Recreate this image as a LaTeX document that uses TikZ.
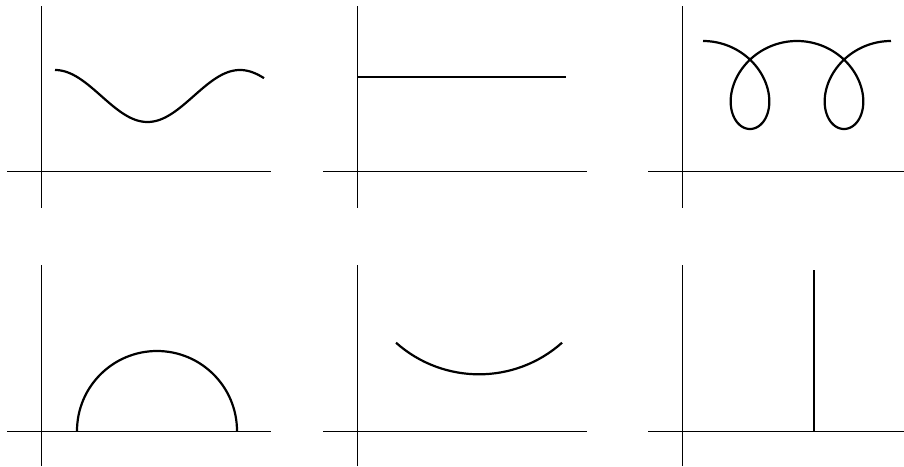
\documentclass[tikz,border=0pt]{standalone}
\usepackage{tikz}
\begin{document}
\begin{tikzpicture}[x=0.5pt, y=0.5pt]
  \tikzset{
      axis/.style={line width=0.5pt},
      curve/.style={line width=1.1pt, line join=round}
  }
  \useasboundingbox (0,0) rectangle (904,466);

  \begin{scope}[shift={(41,294)}]
      \coordinate (o1) at (0,0);
      \draw[axis] (-34,0) -- (230,0);
      \draw[axis] (0,-36) -- (0,166);
      \draw[curve] plot[domain=14:223, samples=120] (\x, {76 + 26*cos(1.9459*(\x-14))});
  \end{scope}

  \begin{scope}[shift={(357,294)}]
      \coordinate (o2) at (0,0);
      \draw[axis] (-34,0) -- (230,0);
      \draw[axis] (0,-36) -- (0,166);
      \draw[curve] (0,95.3) -- (209,95.3);
  \end{scope}

  \begin{scope}[shift={(682,294)}]
      \coordinate (o3) at (0,0);
      \draw[axis] (-34,0) -- (222,0);
      \draw[axis] (0,-36) -- (0,166);
      \draw[curve] plot[domain=0:720, samples=240, smooth] ({21 + 0.2611*\x + 40*sin(\x)}, {87 + 44*cos(\x)});
  \end{scope}

  \begin{scope}[shift={(41,35)}]
      \coordinate (o4) at (0,0);
      \draw[axis] (-34,0) -- (230,0);
      \draw[axis] (0,-35) -- (0,166);
      \draw[curve] (36,0) arc[start angle=180, end angle=0, radius=80];
  \end{scope}

  \begin{scope}[shift={(357,35)}]
      \coordinate (o5) at (0,0);
      \draw[axis] (-34,0) -- (230,0);
      \draw[axis] (0,-35) -- (0,166);
      \draw[curve] (39,88.3) arc[start angle=228.3, end angle=311.7, radius=124.8];
  \end{scope}

  \begin{scope}[shift={(682,35)}]
      \coordinate (o6) at (0,0);
      \draw[axis] (-34,0) -- (222,0);
      \draw[axis] (0,-35) -- (0,166);
      \draw[curve, line width=1.3pt] (132,0) -- (132,161);
  \end{scope}
\end{tikzpicture}
\end{document}
